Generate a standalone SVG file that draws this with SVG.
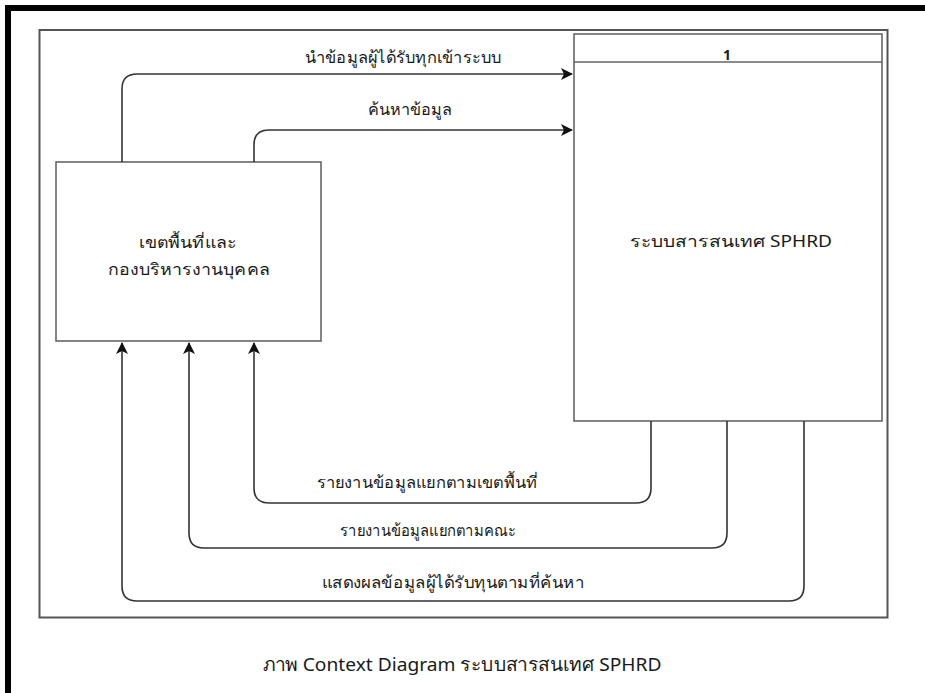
<svg xmlns="http://www.w3.org/2000/svg" width="925" height="693" viewBox="0 0 925 693">
<style>
.lbl{font-family:"Noto Sans","DejaVu Sans",sans-serif;font-size:16px;fill:#1a1a1a;text-anchor:middle}
.flow{fill:none;stroke:#333;stroke-width:1.6}
.box{fill:#fff;stroke:#666;stroke-width:1.6}
</style>
<defs>
<marker id="arr" markerWidth="12" markerHeight="12" refX="11" refY="6" orient="auto" markerUnits="userSpaceOnUse">
<path d="M0,0 L12,6 L0,12 L3,6 Z" fill="#111"/>
</marker>
</defs>
<rect width="925" height="693" fill="#fff"/>
<g id="page-frame">
<path d="M8,693 V8 H925" fill="none" stroke="#000" stroke-width="6"/>
<rect x="39.5" y="30" width="848" height="587.5" fill="none" stroke="#555" stroke-width="2"/>
</g>
<g id="entity">
<rect class="box" x="56" y="162" width="265" height="179"/>
<text class="lbl" x="188" y="248" textLength="98" lengthAdjust="spacingAndGlyphs">เขตพื้นที่และ</text>
<text class="lbl" x="189" y="275" textLength="162" lengthAdjust="spacingAndGlyphs">กองบริหารงานบุคคล</text>
</g>
<g id="process">
<rect class="box" x="574" y="34" width="308" height="387"/>
<line x1="574" y1="62" x2="882" y2="62" stroke="#666" stroke-width="1.6"/>
<text class="lbl" x="727" y="60" font-weight="bold" style="font-size:14px">1</text>
<text class="lbl" x="731" y="247" textLength="202" lengthAdjust="spacingAndGlyphs">ระบบสารสนเทศ SPHRD</text>
</g>
<g id="connectors">
<path class="flow" d="M122,162 V89 Q122,74 137,74 H572" marker-end="url(#arr)"/>
<path class="flow" d="M254,162 V145 Q254,130 269,130 H572" marker-end="url(#arr)"/>
<path class="flow" d="M651,421 V488 Q651,503 636,503 H269 Q254,503 254,488 V343" marker-end="url(#arr)"/>
<path class="flow" d="M727,421 V533 Q727,548 712,548 H204 Q189,548 189,533 V343" marker-end="url(#arr)"/>
<path class="flow" d="M804,421 V586 Q804,601 789,601 H137 Q122,601 122,586 V343" marker-end="url(#arr)"/>
<text class="lbl" x="403" y="63" textLength="197" lengthAdjust="spacingAndGlyphs">นำข้อมูลผู้ได้รับทุกเข้าระบบ</text>
<text class="lbl" x="410" y="115" textLength="85" lengthAdjust="spacingAndGlyphs">ค้นหาข้อมูล</text>
<text class="lbl" x="427" y="488" textLength="221" lengthAdjust="spacingAndGlyphs">รายงานข้อมูลแยกตามเขตพื้นที่</text>
<text class="lbl" x="428" y="536" textLength="176" lengthAdjust="spacingAndGlyphs">รายงานข้อมูลแยกตามคณะ</text>
<text class="lbl" x="453" y="588" textLength="263" lengthAdjust="spacingAndGlyphs">แสดงผลข้อมูลผู้ได้รับทุนตามที่ค้นหา</text>
</g>
<text class="lbl" x="462" y="671" style="font-size:18.5px" textLength="399" lengthAdjust="spacingAndGlyphs">ภาพ Context Diagram ระบบสารสนเทศ SPHRD</text>
</svg>
